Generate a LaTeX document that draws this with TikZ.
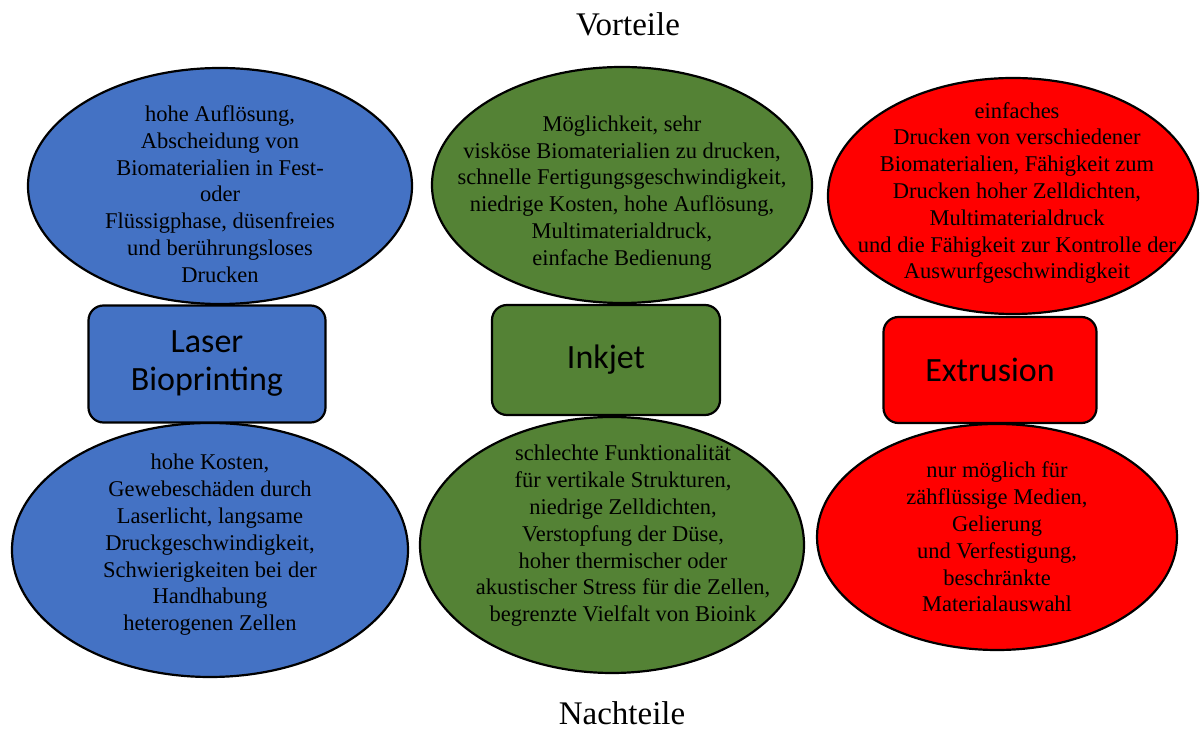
\documentclass[tikz,border=0pt]{standalone}
\usepackage{fontspec}
\setmainfont{Liberation Serif}
\newfontfamily\boxfont{Carlito}
\usepackage{tikz}
\usetikzlibrary{shapes.geometric}
\definecolor{laserblue}{HTML}{4472C4}
\definecolor{inkgreen}{HTML}{548235}
\definecolor{extred}{HTML}{FF0000}
\tikzset{
  ellpro/.style  = {draw, ellipse, line width=1.1pt, inner sep=0pt},
  blkmeth/.style = {draw, rounded corners=7.5pt, line width=1.1pt,
                    font=\boxfont\fontsize{17}{19}\selectfont,
                    align=center, inner sep=2pt},
  elltxt/.style  = {font=\fontsize{11.25}{13.4}\selectfont, align=center,
                    inner sep=0pt},
  headlbl/.style = {font=\fontsize{16.5}{20}\selectfont, inner sep=0pt},
}

\begin{document}
\begin{tikzpicture}[x=0.5pt, y=-0.5pt]
    \useasboundingbox (0,0) rectangle (1200,731);

    % Vorteile (oben)
    \node[ellpro, fill=laserblue, minimum width=192pt, minimum height=118pt] (laserPro) at (220,186) {};
    \node[ellpro, fill=inkgreen,  minimum width=190pt, minimum height=118pt] (inkPro)   at (622,185) {};
    \node[ellpro, fill=extred,    minimum width=185pt, minimum height=118pt] (extPro)   at (1013,196) {};

    % Nachteile (unten)
    \node[ellpro, fill=laserblue, minimum width=198pt, minimum height=127pt] (laserCon) at (210,550) {};
    \node[ellpro, fill=inkgreen,  minimum width=192pt, minimum height=128pt] (inkCon)   at (612,545) {};
    \node[ellpro, fill=extred,    minimum width=180pt, minimum height=113pt] (extCon)   at (997,537) {};

    % Verfahren
    \node[blkmeth, fill=laserblue, minimum width=118.5pt, minimum height=58.5pt] (laser) at (207,364) {Laser\\Bioprinting};
    \node[blkmeth, fill=inkgreen,  minimum width=114pt,   minimum height=55pt]   (inkjet) at (606,360) {Inkjet};
    \node[blkmeth, fill=extred,    minimum width=106.5pt, minimum height=53pt]   (extrusion) at (990,370) {Extrusion};

    % Texte
    \node[elltxt] (laserProTxt) at (220,194) {hohe Auflösung,\\Abscheidung von\\Biomaterialien in Fest-\\oder\\Flüssigphase, düsenfreies\\und berührungsloses\\Drucken};
    \node[elltxt] (inkProTxt) at (622,193) {Möglichkeit, sehr\\visköse Biomaterialien zu drucken,\\schnelle Fertigungsgeschwindigkeit,\\niedrige Kosten, hohe Auflösung,\\Multimaterialdruck,\\einfache Bedienung};
    \node[elltxt] (extProTxt) at (1017,193) {einfaches\\Drucken von verschiedener\\Biomaterialien, Fähigkeit zum\\Drucken hoher Zelldichten,\\Multimaterialdruck\\und die Fähigkeit zur Kontrolle der\\Auswurfgeschwindigkeit};
    \node[elltxt] (laserConTxt) at (210,545) {hohe Kosten,\\Gewebeschäden durch\\Laserlicht, langsame\\Druckgeschwindigkeit,\\Schwierigkeiten bei der\\Handhabung\\heterogenen Zellen};
    \node[elltxt] (inkConTxt) at (623,536) {schlechte Funktionalität\\für vertikale Strukturen,\\niedrige Zelldichten,\\Verstopfung der Düse,\\hoher thermischer oder\\akustischer Stress für die Zellen,\\begrenzte Vielfalt von Bioink};
    \node[elltxt] (extConTxt) at (997,537) {nur möglich für\\zähflüssige Medien,\\Gelierung\\und Verfestigung,\\beschränkte\\Materialauswahl};

    \node[headlbl] (vorteile)  at (628,24)  {Vorteile};
    \node[headlbl] (nachteile) at (622,713) {Nachteile};
\end{tikzpicture}
\end{document}
